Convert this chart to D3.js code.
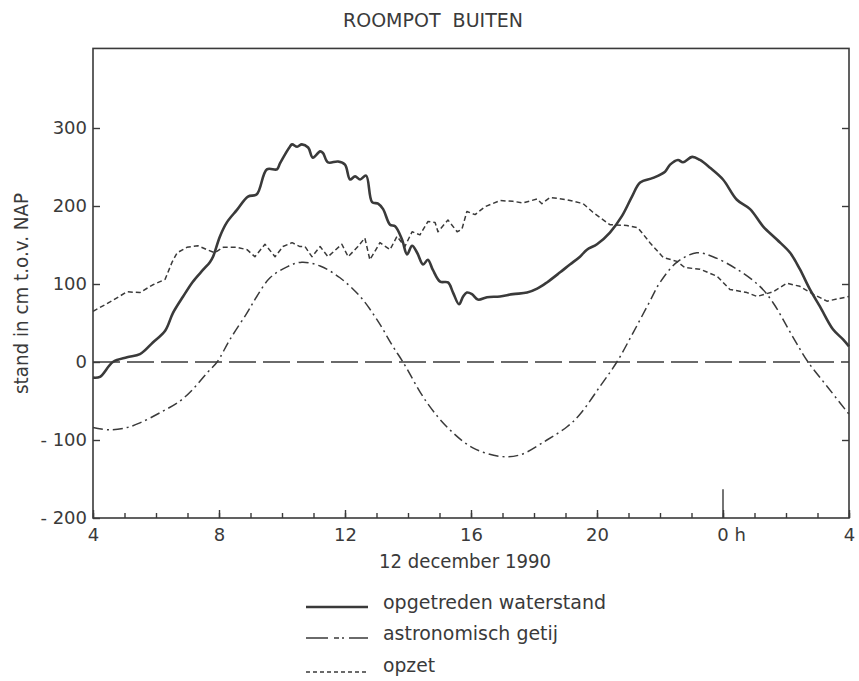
<!DOCTYPE html>
<html>
<head>
<meta charset="utf-8">
<script src="https://cdn.jsdelivr.net/npm/d3@7"></script>
<style>
  body { margin: 0; background: #fff; }
  text { font-family: 'DejaVu Sans', sans-serif; fill: #3a3a3a; }
</style>
</head>
<body>
<div id="chart"></div>
<script>
'use strict'

// hours since 0h on 12 december (28 = 4h next day), values in cm t.o.v. NAP
const waterHours = [4.0, 4.22, 4.63, 5.08, 5.49, 5.9, 6.29, 6.54, 6.86, 7.17, 7.49, 7.71, 7.81, 8.03, 8.25, 8.57, 8.92, 9.2, 9.52, 9.84, 9.94, 10.25, 10.32, 10.48, 10.63, 10.83, 10.98, 11.21, 11.3, 11.46, 11.78, 12.0, 12.16, 12.32, 12.48, 12.67, 12.86, 13.05, 13.21, 13.43, 13.59, 13.81, 13.97, 14.13, 14.29, 14.48, 14.63, 14.79, 15.02, 15.27, 15.43, 15.62, 15.75, 15.87, 16.03, 16.22, 16.51, 16.92, 17.33, 17.78, 18.1, 18.41, 18.83, 19.14, 19.46, 19.68, 20.0, 20.41, 20.79, 21.11, 21.37, 21.78, 22.16, 22.32, 22.57, 22.73, 23.02, 23.27, 23.59, 24.0, 24.44, 24.86, 25.27, 25.71, 26.13, 26.44, 26.76, 27.08, 27.49, 27.81, 28.0]
const waterLevel = [-20, -19, 0, 6, 10, 25, 40, 63, 84, 103, 118, 128, 135, 161, 179, 195, 212, 215, 247, 247, 255, 276, 279, 276, 279, 275, 262, 270, 268, 256, 257, 253, 234, 238, 234, 239, 205, 203, 196, 176, 174, 157, 138, 149, 140, 125, 131, 118, 103, 102, 89, 74, 84, 89, 87, 80, 83, 84, 87, 89, 94, 102, 115, 125, 135, 144, 151, 166, 187, 212, 230, 236, 244, 253, 259, 256, 263, 259, 249, 234, 208, 196, 174, 157, 140, 119, 93, 71, 42, 29, 20]

const tideHours = [4.0, 4.54, 5.08, 5.49, 6.13, 6.76, 7.17, 7.62, 7.94, 8.35, 8.89, 9.2, 9.62, 10.16, 10.63, 11.21, 11.84, 12.48, 13.02, 13.52, 13.84, 14.6, 15.33, 16.06, 16.92, 17.56, 18.41, 19.05, 19.46, 20.1, 20.63, 21.14, 21.68, 22.0, 22.54, 23.17, 23.68, 24.44, 25.17, 25.59, 26.22, 26.7, 27.3, 28.0]
const tideLevel = [-84, -87, -84, -78, -65, -50, -35, -14, 0, 29, 63, 84, 108, 122, 128, 123, 108, 84, 54, 20, 0, -52, -87, -110, -121, -119, -100, -83, -67, -31, 0, 37, 78, 102, 128, 140, 135, 119, 97, 76, 32, 0, -31, -67]

const surgeHours = [4.0, 4.54, 5.08, 5.49, 5.9, 6.29, 6.51, 6.67, 6.98, 7.33, 7.62, 7.87, 8.13, 8.57, 8.89, 9.14, 9.46, 9.78, 10.03, 10.32, 10.57, 10.73, 10.95, 11.21, 11.46, 11.9, 12.1, 12.41, 12.63, 12.79, 13.11, 13.43, 13.65, 13.9, 14.13, 14.38, 14.63, 14.86, 14.95, 15.27, 15.56, 15.71, 15.87, 16.13, 16.44, 16.92, 17.33, 17.65, 18.1, 18.25, 18.51, 19.05, 19.46, 19.56, 19.87, 20.41, 20.95, 21.3, 21.68, 22.1, 22.54, 22.79, 23.27, 23.81, 24.22, 24.76, 25.08, 25.59, 26.03, 26.44, 26.86, 27.3, 28.0]
const surgeLevel = [65, 77, 90, 89, 99, 106, 128, 140, 147, 149, 144, 140, 147, 147, 144, 135, 151, 135, 148, 153, 148, 148, 135, 148, 135, 151, 135, 148, 159, 131, 153, 144, 161, 148, 167, 163, 180, 179, 167, 182, 167, 170, 193, 189, 199, 207, 206, 204, 209, 203, 211, 208, 204, 203, 192, 176, 175, 172, 153, 134, 129, 121, 119, 110, 93, 89, 84, 90, 101, 97, 87, 78, 84]

const hourTicks = d3.range(4, 29)
const majorHours = [4, 8, 12, 16, 20, 24, 28]
const levelTicks = [-200, -100, 0, 100, 200, 300]
const legendLabels = ['opgetreden waterstand', 'astronomisch getij', 'opzet']

const width = 859,
      height = 681
const ink = '#3a3a3a'

const svg = d3.select('#chart').append('svg')
  .attr('width', width)
  .attr('height', height)

const x = d3.scaleLinear().domain([4, 28]).range([93, 849])
const y = d3.scaleLinear().domain([-200, 300]).range([518, 128])
const frameTop = y(402)

// frame
svg.append('rect')
  .attr('x', x(4)).attr('y', frameTop)
  .attr('width', x(28) - x(4)).attr('height', y(-200) - frameTop)
  .attr('fill', 'none').attr('stroke', ink).attr('stroke-width', 1.6)

// bottom axis: hourly ticks, longer ticks every 4 h
const minorAxis = d3.axisBottom(x).tickValues(hourTicks).tickSize(-5).tickFormat('')
const majorAxis = d3.axisBottom(x).tickValues(majorHours).tickSize(-8).tickPadding(10)
  .tickFormat(d => d === 24 ? '0 h' : String(d % 24))

svg.append('g').attr('transform', `translate(0,${y(-200)})`).call(minorAxis)
const gx = svg.append('g').attr('transform', `translate(0,${y(-200)})`).call(majorAxis)
gx.selectAll('text').attr('font-size', 18)
  .filter(d => d === 24).attr('dx', 8)
svg.selectAll('.domain').remove()
svg.selectAll('.tick line').attr('stroke', ink).attr('stroke-width', 1.4)
gx.selectAll('.tick text').attr('fill', ink)

// tall marker at 0 h
svg.append('line')
  .attr('x1', x(24)).attr('x2', x(24))
  .attr('y1', y(-200)).attr('y2', y(-163))
  .attr('stroke', ink).attr('stroke-width', 1.4)

// left axis
const gy = svg.append('g').attr('transform', `translate(${x(4)},0)`)
  .call(d3.axisLeft(y).tickValues(levelTicks).tickSize(-7).tickPadding(6)
    .tickFormat(d => d < 0 ? '- ' + Math.abs(d) : d))
gy.select('.domain').remove()
gy.selectAll('.tick line').attr('stroke', ink).attr('stroke-width', 1.4)
gy.selectAll('.tick text').attr('font-size', 18).attr('fill', ink)

// right axis
const gr = svg.append('g').attr('transform', `translate(${x(28)},0)`)
  .call(d3.axisRight(y).tickValues([-100, 100, 200, 300]).tickSize(-7).tickFormat(''))
gr.select('.domain').remove()
gr.selectAll('.tick line').attr('stroke', ink).attr('stroke-width', 1.4)

// zero line
svg.append('line')
  .attr('x1', x(4)).attr('x2', x(28))
  .attr('y1', y(0)).attr('y2', y(0))
  .attr('stroke', ink).attr('stroke-width', 1.3)
  .attr('stroke-dasharray', '27,7')

const series = [
  { hours: waterHours, values: waterLevel, width: 2.6, dash: null, curve: d3.curveCatmullRom },
  { hours: tideHours, values: tideLevel, width: 1.5, dash: '10,4,2,4', curve: d3.curveCatmullRom },
  { hours: surgeHours, values: surgeLevel, width: 1.5, dash: '5,3', curve: d3.curveLinear }
]

series.forEach(s => {
  const pts = s.hours.map((h, i) => [h, s.values[i]])
  const line = d3.line().x(d => x(d[0])).y(d => y(d[1])).curve(s.curve)
  svg.append('path')
    .datum(pts)
    .attr('d', line)
    .attr('fill', 'none')
    .attr('stroke', ink)
    .attr('stroke-width', s.width)
    .attr('stroke-linejoin', 'round')
    .attr('stroke-dasharray', s.dash)
})

// texts: the lettering is tall and narrow, so squeeze DejaVu to the measured widths
svg.append('text')
  .attr('x', 343).attr('y', 27)
  .attr('font-size', 19.5)
  .attr('textLength', 180).attr('lengthAdjust', 'spacingAndGlyphs')
  .style('white-space', 'pre')
  .text('ROOMPOT  BUITEN')

svg.append('text')
  .attr('transform', 'translate(28,394) rotate(-90)')
  .attr('font-size', 20)
  .attr('textLength', 201).attr('lengthAdjust', 'spacingAndGlyphs')
  .text('stand in cm t.o.v. NAP')

svg.append('text')
  .attr('x', 379).attr('y', 568)
  .attr('font-size', 20)
  .attr('textLength', 172).attr('lengthAdjust', 'spacingAndGlyphs')
  .text('12 december 1990')

// legend
const legendDash = [null, '22,6,5,3,2,5', '4,3']
const legendWidth = [2.6, 1.5, 1.5]
const legendY = [607, 638, 672]
const legendBase = [609, 640, 672]
const legendTextWidth = [223, 175, 52]
legendLabels.forEach((label, i) => {
  svg.append('line')
    .attr('x1', 306).attr('x2', 368)
    .attr('y1', legendY[i]).attr('y2', legendY[i])
    .attr('stroke', ink)
    .attr('stroke-width', legendWidth[i])
    .attr('stroke-dasharray', legendDash[i])
  svg.append('text')
    .attr('x', 383).attr('y', legendBase[i])
    .attr('font-size', 20)
    .attr('textLength', legendTextWidth[i]).attr('lengthAdjust', 'spacingAndGlyphs')
    .text(label)
})
</script>
</body>
</html>
